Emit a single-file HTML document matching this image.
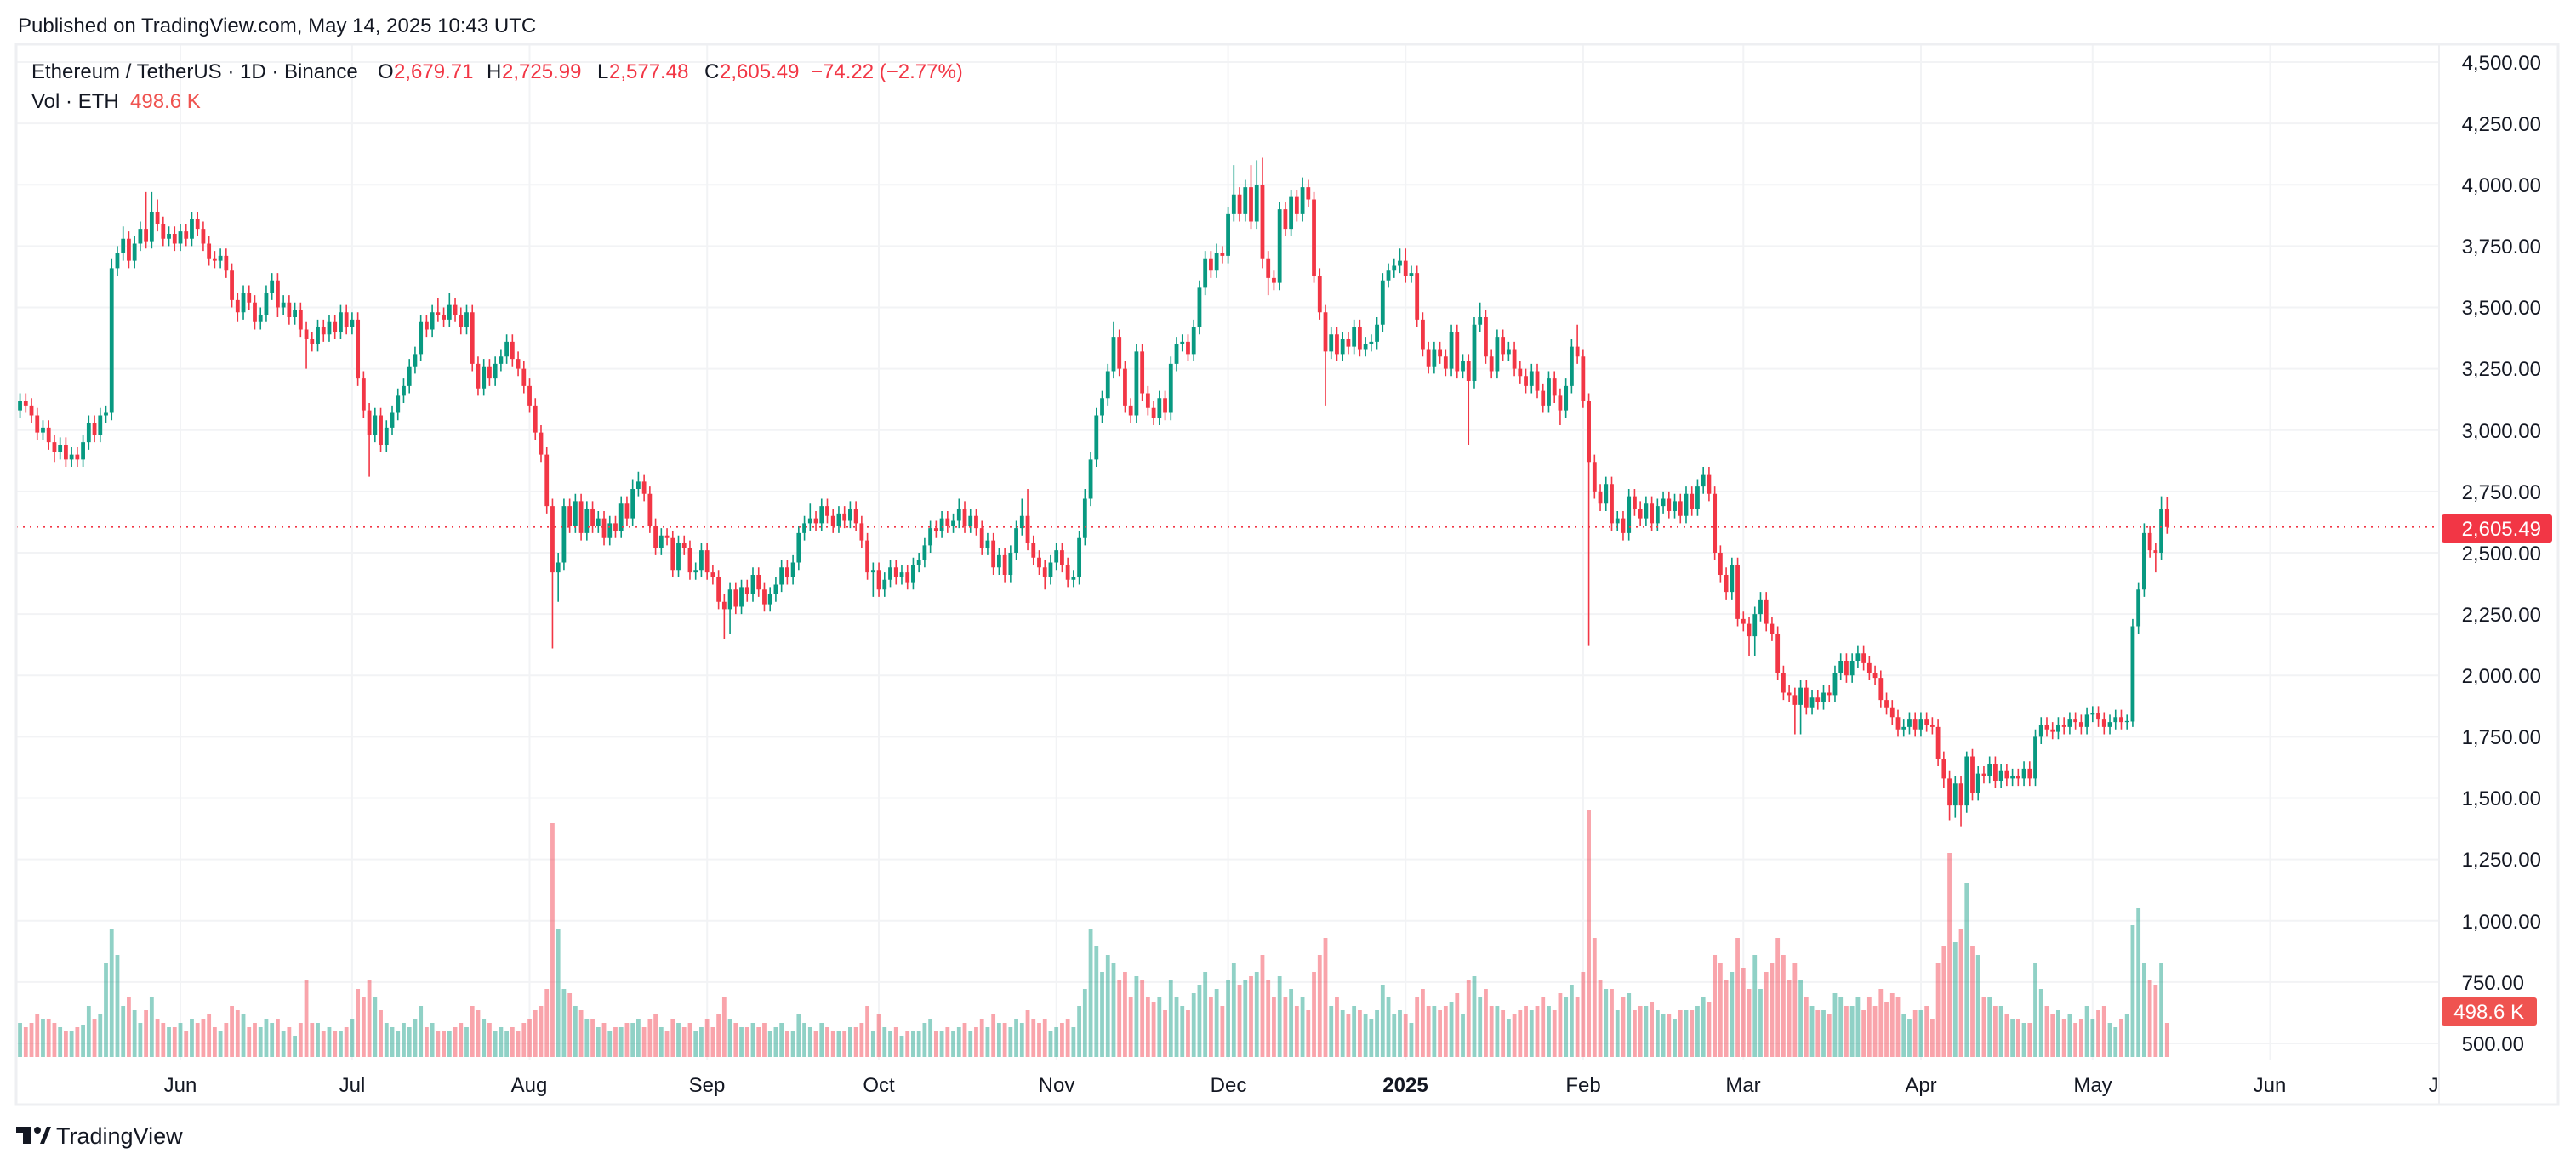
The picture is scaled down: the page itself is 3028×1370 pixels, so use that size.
<!DOCTYPE html>
<html><head><meta charset="utf-8">
<style>
html,body{margin:0;padding:0;background:#fff;}
svg{display:block;font-family:"Liberation Sans",sans-serif;}
</style></head>
<body>
<svg width="3028" height="1370" viewBox="0 0 3028 1370" xmlns="http://www.w3.org/2000/svg">
<defs><clipPath id="pane"><rect x="19" y="52" width="2848" height="1247"/></clipPath></defs>
<rect width="3028" height="1370" fill="#fff"/>
<g stroke="#f2f3f5" stroke-width="2">
<line x1="19" x2="2867" y1="73" y2="73"/><line x1="19" x2="2867" y1="145.1" y2="145.1"/><line x1="19" x2="2867" y1="217.3" y2="217.3"/><line x1="19" x2="2867" y1="289.4" y2="289.4"/><line x1="19" x2="2867" y1="361.5" y2="361.5"/><line x1="19" x2="2867" y1="433.6" y2="433.6"/><line x1="19" x2="2867" y1="505.8" y2="505.8"/><line x1="19" x2="2867" y1="577.9" y2="577.9"/><line x1="19" x2="2867" y1="650" y2="650"/><line x1="19" x2="2867" y1="722.1" y2="722.1"/><line x1="19" x2="2867" y1="794.3" y2="794.3"/><line x1="19" x2="2867" y1="866.4" y2="866.4"/><line x1="19" x2="2867" y1="938.5" y2="938.5"/><line x1="19" x2="2867" y1="1010.6" y2="1010.6"/><line x1="19" x2="2867" y1="1082.8" y2="1082.8"/><line x1="19" x2="2867" y1="1154.9" y2="1154.9"/><line x1="19" x2="2867" y1="1227" y2="1227"/>
<line x1="212" x2="212" y1="52" y2="1246"/><line x1="413.9" x2="413.9" y1="52" y2="1246"/><line x1="622.5" x2="622.5" y1="52" y2="1246"/><line x1="831.2" x2="831.2" y1="52" y2="1246"/><line x1="1033" x2="1033" y1="52" y2="1246"/><line x1="1241.7" x2="1241.7" y1="52" y2="1246"/><line x1="1443.6" x2="1443.6" y1="52" y2="1246"/><line x1="1652.2" x2="1652.2" y1="52" y2="1246"/><line x1="1860.9" x2="1860.9" y1="52" y2="1246"/><line x1="2049.3" x2="2049.3" y1="52" y2="1246"/><line x1="2258" x2="2258" y1="52" y2="1246"/><line x1="2459.8" x2="2459.8" y1="52" y2="1246"/><line x1="2668.5" x2="2668.5" y1="52" y2="1246"/>
</g>
<g clip-path="url(#pane)">
<g transform="matrix(6.73 0 0 -1 212 1243)" fill="none" stroke-width="4.8">
<path vector-effect="non-scaling-stroke" stroke="rgba(8,153,129,0.45)" d="M-28 0v40M-24 0v45M-21 0v35M-19 0v30M-17 0v38M-16 0v60M-14 0v50M-13 0v110M-12 0v150M-11 0v120M-10 0v60M-8 0v55M-7 0v40M-5 0v70M-2 0v35M0 0v40M2 0v45M7 0v30M11 0v50M14 0v35M15 0v45M16 0v40M18 0v30M20 0v25M24 0v40M26 0v35M28 0v30M30 0v45M34 0v70M36 0v40M37 0v35M38 0v30M39 0v40M40 0v35M41 0v45M42 0v60M44 0v40M47 0v30M50 0v35M53 0v45M55 0v30M56 0v35M57 0v30M66 0v150M67 0v80M69 0v60M71 0v45M73 0v35M75 0v30M77 0v35M79 0v40M80 0v45M84 0v35M87 0v40M90 0v30M91 0v35M96 0v45M98 0v35M100 0v40M103 0v30M104 0v35M105 0v40M107 0v30M108 0v50M109 0v40M110 0v35M112 0v40M115 0v30M117 0v35M121 0v30M123 0v35M124 0v30M126 0v25M128 0v30M129 0v30M130 0v40M131 0v45M133 0v30M135 0v30M136 0v35M138 0v30M141 0v35M143 0v40M145 0v35M146 0v45M147 0v40M152 0v30M153 0v35M156 0v35M157 0v60M158 0v80M159 0v150M160 0v130M161 0v100M162 0v120M163 0v110M167 0v95M171 0v70M173 0v90M174 0v70M175 0v60M177 0v75M178 0v85M179 0v100M181 0v80M183 0v90M184 0v110M186 0v90M188 0v100M192 0v95M194 0v80M196 0v70M201 0v60M203 0v55M205 0v60M207 0v50M208 0v45M209 0v55M210 0v85M211 0v70M212 0v50M213 0v55M215 0v40M219 0v60M222 0v65M224 0v50M226 0v95M227 0v70M230 0v60M232 0v45M236 0v55M239 0v60M242 0v70M243 0v85M249 0v80M251 0v55M253 0v75M256 0v60M258 0v55M259 0v50M261 0v45M263 0v55M265 0v60M266 0v70M271 0v100M275 0v120M276 0v80M283 0v90M285 0v60M287 0v55M289 0v75M290 0v70M292 0v60M293 0v70M301 0v50M302 0v45M304 0v55M310 0v135M312 0v205M314 0v120M316 0v70M318 0v60M320 0v45M322 0v40M324 0v110M325 0v80M328 0v55M330 0v50M333 0v60M334 0v45M337 0v40M338 0v35M340 0v50M341 0v155M342 0v175M343 0v110M346 0v110"/>
<path vector-effect="non-scaling-stroke" stroke="rgba(242,54,69,0.45)" d="M-27 0v35M-26 0v40M-25 0v50M-23 0v45M-22 0v40M-20 0v30M-18 0v35M-15 0v45M-9 0v70M-6 0v55M-4 0v45M-3 0v40M-1 0v35M1 0v30M3 0v40M4 0v45M5 0v50M6 0v35M8 0v40M9 0v60M10 0v55M12 0v35M13 0v40M17 0v45M19 0v35M21 0v40M22 0v90M23 0v40M25 0v30M27 0v30M29 0v35M31 0v80M32 0v70M33 0v90M35 0v55M43 0v35M45 0v30M46 0v30M48 0v35M49 0v40M51 0v60M52 0v55M54 0v40M58 0v35M59 0v30M60 0v40M61 0v45M62 0v55M63 0v60M64 0v80M65 0v275M68 0v75M70 0v55M72 0v45M74 0v40M76 0v35M78 0v40M81 0v35M82 0v45M83 0v50M85 0v30M86 0v45M88 0v35M89 0v40M92 0v45M93 0v35M94 0v50M95 0v70M97 0v40M99 0v35M101 0v35M102 0v40M106 0v30M111 0v30M113 0v35M114 0v30M116 0v30M118 0v35M119 0v40M120 0v60M122 0v50M125 0v35M127 0v30M132 0v30M134 0v35M137 0v40M139 0v35M140 0v45M142 0v50M144 0v40M148 0v55M149 0v45M150 0v40M151 0v45M154 0v40M155 0v45M164 0v90M165 0v100M166 0v70M168 0v90M169 0v70M170 0v65M172 0v55M176 0v55M180 0v70M182 0v60M185 0v85M187 0v95M189 0v120M190 0v90M191 0v70M193 0v70M195 0v60M197 0v55M198 0v100M199 0v120M200 0v140M202 0v70M204 0v50M206 0v55M214 0v50M216 0v70M217 0v80M218 0v60M220 0v55M221 0v60M223 0v75M225 0v90M228 0v80M229 0v60M231 0v55M233 0v50M234 0v55M235 0v60M237 0v60M238 0v70M240 0v55M241 0v75M244 0v70M245 0v100M246 0v290M247 0v140M248 0v90M250 0v80M252 0v70M254 0v55M255 0v60M257 0v65M260 0v50M262 0v55M264 0v55M267 0v65M268 0v120M269 0v110M270 0v90M272 0v140M273 0v105M274 0v80M277 0v100M278 0v110M279 0v140M280 0v120M281 0v90M282 0v110M284 0v70M286 0v55M288 0v50M291 0v60M294 0v55M295 0v70M296 0v60M297 0v80M298 0v65M299 0v75M300 0v70M303 0v55M305 0v60M306 0v45M307 0v110M308 0v130M309 0v240M311 0v150M313 0v130M315 0v70M317 0v60M319 0v50M321 0v45M323 0v40M326 0v60M327 0v50M329 0v45M331 0v40M332 0v45M335 0v55M336 0v60M339 0v45M344 0v90M345 0v85M347 0v40"/>
</g>
<g transform="matrix(6.73 0 0 -0.2885 212 1371.25)" fill="none">
<path vector-effect="non-scaling-stroke" stroke="#089981" stroke-width="1.6" d="M-28 3050V3150M-24 2960V3040M-21 2880V2970M-19 2850V2930M-17 2850V2980M-16 2920V3060M-14 2950V3090M-13 3030V3100M-12 3040V3700M-11 3630V3750M-10 3690V3830M-8 3660V3790M-7 3730V3850M-5 3740V3970M-2 3750V3830M0 3730V3840M2 3750V3890M7 3660V3740M11 3450V3590M14 3410V3500M15 3440V3590M16 3530V3640M18 3470V3550M20 3430V3520M24 3320V3450M26 3360V3470M28 3370V3510M30 3390V3480M34 2950V3090M36 2910V3040M37 2980V3100M38 3040V3170M39 3110V3210M40 3150V3290M41 3230V3340M42 3280V3470M44 3380V3510M47 3420V3560M50 3390V3510M53 3140V3290M55 3180V3300M56 3240V3330M57 3270V3390M66 2300V2500M67 2430V2720M69 2580V2740M71 2550V2710M73 2580V2670M75 2530V2650M77 2560V2730M79 2610V2800M80 2730V2830M84 2490V2600M87 2400V2570M90 2390V2460M91 2400V2540M96 2170V2380M98 2250V2390M100 2300V2440M103 2260V2360M104 2300V2400M105 2340V2470M107 2370V2490M108 2430V2610M109 2550V2650M110 2590V2700M112 2590V2720M115 2580V2690M117 2600V2710M121 2320V2460M123 2320V2420M124 2360V2470M126 2370V2450M128 2350V2480M129 2420V2500M130 2440V2560M131 2500V2630M133 2560V2670M135 2580V2660M136 2600V2720M138 2580V2680M141 2490V2580M143 2410V2520M145 2380V2530M146 2470V2630M147 2570V2720M152 2370V2490M153 2430V2540M156 2360V2430M157 2370V2590M158 2530V2760M159 2690V2910M160 2850V3090M161 3030V3160M162 3100V3270M163 3210V3440M167 3030V3350M171 3020V3160M173 3040V3300M174 3240V3380M175 3320V3390M177 3280V3450M178 3390V3610M179 3550V3730M181 3620V3760M183 3680V3910M184 3850V4080M186 3850V4020M188 3820V4100M192 3570V3930M194 3790V3980M196 3850V4030M201 3290V3420M203 3280V3400M205 3310V3450M207 3300V3380M208 3320V3390M209 3330V3460M210 3400V3640M211 3580V3680M212 3620V3700M213 3640V3740M215 3600V3670M219 3230V3360M222 3220V3430M224 3210V3310M226 3170V3460M227 3400V3520M230 3210V3410M232 3280V3360M236 3150V3270M239 3070V3240M242 3050V3210M243 3150V3370M249 2670V2810M251 2590V2670M253 2550V2760M256 2610V2730M258 2590V2720M259 2660V2750M261 2640V2740M263 2620V2770M265 2650V2800M266 2740V2850M271 2310V2480M275 2080V2280M276 2220V2340M283 1760V1980M285 1840V1940M287 1860V1960M289 1890V2040M290 1980V2090M292 1970V2090M293 2030V2120M301 1750V1820M302 1760V1850M304 1750V1850M310 1420V1590M312 1440V1690M314 1490V1630M316 1560V1670M318 1540V1640M320 1550V1620M322 1550V1650M324 1550V1780M325 1720V1830M328 1740V1830M330 1760V1850M333 1760V1870M334 1810V1875M337 1760V1840M338 1780V1860M340 1780V1840M341 1790V2230M342 2170V2380M343 2320V2620M346 2470V2730"/>
<path vector-effect="non-scaling-stroke" stroke="#089981" stroke-width="4.8" d="M-28 3080V3120M-24 2990V3010M-21 2910V2940M-19 2880V2900M-17 2880V2950M-16 2950V3030M-14 2980V3060M-13 3060V3070M-12 3070V3660M-11 3660V3720M-10 3720V3780M-8 3690V3760M-7 3760V3820M-5 3770V3890M-2 3780V3800M0 3760V3810M2 3780V3860M7 3690V3710M11 3480V3560M14 3440V3470M15 3470V3560M16 3560V3610M18 3500V3520M20 3460V3490M24 3350V3420M26 3390V3440M28 3400V3480M30 3420V3450M34 2980V3060M36 2940V3010M37 3010V3070M38 3070V3140M39 3140V3180M40 3180V3260M41 3260V3310M42 3310V3440M44 3410V3480M47 3450V3510M50 3420V3480M53 3170V3260M55 3210V3270M56 3270V3300M57 3300V3360M66 2420V2460M67 2460V2690M69 2610V2710M71 2580V2680M73 2610V2640M75 2560V2620M77 2590V2700M79 2640V2760M80 2760V2790M84 2520V2570M87 2430V2540M90 2420V2430M91 2430V2510M96 2270V2350M98 2280V2360M100 2330V2410M103 2290V2330M104 2330V2370M105 2370V2440M107 2400V2460M108 2460V2580M109 2580V2620M110 2620V2640M112 2620V2690M115 2610V2660M117 2630V2680M121 2420V2430M123 2350V2390M124 2390V2440M126 2400V2420M128 2380V2450M129 2450V2470M130 2470V2530M131 2530V2600M133 2590V2640M135 2610V2630M136 2630V2680M138 2610V2650M141 2520V2550M143 2440V2490M145 2410V2500M146 2500V2600M147 2600V2650M152 2400V2460M153 2460V2510M156 2390V2400M157 2400V2560M158 2560V2720M159 2720V2880M160 2880V3060M161 3060V3130M162 3130V3240M163 3240V3380M167 3060V3320M171 3050V3130M173 3070V3270M174 3270V3350M175 3350V3360M177 3310V3420M178 3420V3580M179 3580V3700M181 3650V3720M183 3710V3880M184 3880V3960M186 3880V3990M188 3850V4000M192 3600V3900M194 3820V3950M196 3880V3990M201 3320V3390M203 3310V3370M205 3340V3420M207 3330V3350M208 3350V3360M209 3360V3430M210 3430V3610M211 3610V3650M212 3650V3670M213 3670V3690M215 3630V3640M219 3260V3330M222 3250V3400M224 3240V3280M226 3200V3430M227 3430V3460M230 3240V3380M232 3310V3330M236 3180V3240M239 3100V3210M242 3080V3180M243 3180V3340M249 2700V2780M251 2620V2640M253 2580V2730M256 2640V2700M258 2620V2690M259 2690V2720M261 2670V2710M263 2650V2740M265 2680V2770M266 2770V2820M271 2340V2450M275 2160V2250M276 2250V2310M283 1880V1950M285 1870V1910M287 1890V1930M289 1920V2010M290 2010V2060M292 2000V2060M293 2060V2090M301 1780V1790M302 1790V1820M304 1780V1820M310 1470V1560M312 1470V1670M314 1520V1600M316 1590V1640M318 1570V1610M320 1580V1590M322 1580V1620M324 1580V1750M325 1750V1800M328 1770V1800M330 1790V1820M333 1790V1840M334 1840V1845M337 1790V1810M338 1810V1830M340 1810V1814M341 1812V2200M342 2200V2350M343 2350V2580M346 2500V2680"/>
<path vector-effect="non-scaling-stroke" stroke="#f23645" stroke-width="1.6" d="M-27 3150V3070M-26 3130V3030M-25 3090V2960M-23 3040V2920M-22 2980V2870M-20 2970V2850M-18 2930V2850M-15 3060V2950M-9 3810V3660M-6 3970V3740M-4 3940V3810M-3 3870V3750M-1 3830V3730M1 3840V3750M3 3890V3790M4 3850V3730M5 3790V3670M6 3730V3660M8 3740V3620M9 3680V3500M10 3560V3440M12 3590V3490M13 3550V3410M17 3640V3460M19 3550V3430M21 3520V3380M22 3440V3250M23 3400V3320M25 3450V3360M27 3470V3370M29 3510V3390M31 3480V3180M32 3240V3050M33 3110V2810M35 3090V2910M43 3470V3380M45 3540V3440M46 3500V3420M48 3540V3440M49 3500V3390M51 3510V3240M52 3300V3140M54 3290V3180M58 3390V3260M59 3320V3220M60 3280V3150M61 3210V3070M62 3130V2960M63 3020V2870M64 2930V2660M65 2720V2110M68 2720V2580M70 2740V2550M72 2710V2580M74 2670V2530M76 2650V2560M78 2730V2610M81 2820V2710M82 2770V2580M83 2640V2490M85 2600V2530M86 2590V2400M88 2570V2490M89 2550V2390M92 2540V2390M93 2450V2370M94 2430V2270M95 2330V2150M97 2380V2250M99 2390V2300M101 2440V2320M102 2380V2260M106 2470V2370M111 2670V2590M113 2720V2620M114 2680V2580M116 2690V2600M118 2710V2590M119 2650V2520M120 2580V2390M122 2460V2320M125 2470V2370M127 2450V2350M132 2630V2560M134 2670V2580M137 2710V2580M139 2680V2570M140 2630V2490M142 2580V2410M144 2520V2380M148 2760V2510M149 2570V2450M150 2510V2410M151 2470V2350M154 2540V2420M155 2480V2360M164 3410V3220M165 3280V3070M166 3130V3030M168 3350V3120M169 3180V3060M170 3120V3020M172 3160V3040M176 3390V3280M180 3730V3620M182 3750V3680M185 3990V3850M187 4080V3820M189 4110V3660M190 3730V3550M191 3650V3570M193 3930V3790M195 3980V3850M197 4020V3910M198 3970V3600M199 3660V3450M200 3510V3100M202 3420V3280M204 3400V3310M206 3450V3300M214 3740V3600M216 3670V3420M217 3480V3300M218 3360V3230M220 3360V3270M221 3330V3220M223 3430V3210M225 3310V2940M228 3490V3270M229 3330V3210M231 3410V3280M233 3360V3220M234 3280V3190M235 3250V3150M237 3270V3130M238 3190V3070M240 3240V3110M241 3170V3020M244 3430V3270M245 3330V3090M246 3150V2120M247 2900V2720M248 2780V2670M250 2810V2590M252 2670V2550M254 2760V2650M255 2710V2610M257 2730V2590M260 2750V2640M262 2740V2620M264 2770V2650M267 2850V2710M268 2770V2470M269 2530V2380M270 2440V2310M272 2480V2200M273 2260V2180M274 2240V2080M277 2340V2180M278 2240V2140M279 2200V1980M280 2040V1900M281 1960V1890M282 1950V1760M284 1980V1840M286 1940V1860M288 1960V1890M291 2090V1970M294 2120V2020M295 2080V1980M296 2040V1960M297 2020V1870M298 1930V1840M299 1900V1800M300 1860V1750M303 1850V1750M305 1850V1770M306 1830V1760M307 1820V1630M308 1690V1540M309 1610V1410M311 1590V1385M313 1700V1490M315 1630V1560M317 1670V1540M319 1640V1550M321 1620V1550M323 1650V1550M326 1830V1750M327 1810V1740M329 1830V1760M331 1850V1780M332 1840V1760M335 1875V1790M336 1850V1760M339 1860V1780M344 2610V2480M345 2540V2420M347 2726V2577"/>
<path vector-effect="non-scaling-stroke" stroke="#f23645" stroke-width="4.8" d="M-27 3120V3100M-26 3100V3060M-25 3060V2990M-23 3010V2950M-22 2950V2910M-20 2940V2880M-18 2900V2880M-15 3030V2980M-9 3780V3690M-6 3820V3770M-4 3890V3840M-3 3840V3780M-1 3800V3760M1 3810V3780M3 3860V3820M4 3820V3760M5 3760V3700M6 3700V3690M8 3710V3650M9 3650V3530M10 3530V3480M12 3560V3520M13 3520V3440M17 3610V3500M19 3520V3460M21 3490V3410M22 3410V3370M23 3370V3350M25 3420V3390M27 3440V3400M29 3480V3420M31 3450V3210M32 3210V3080M33 3080V2980M35 3060V2940M43 3440V3410M45 3480V3470M46 3470V3450M48 3510V3470M49 3470V3420M51 3480V3270M52 3270V3170M54 3260V3210M58 3360V3290M59 3290V3250M60 3250V3180M61 3180V3100M62 3100V2990M63 2990V2900M64 2900V2690M65 2690V2420M68 2690V2610M70 2710V2580M72 2680V2610M74 2640V2560M76 2620V2590M78 2700V2640M81 2790V2740M82 2740V2610M83 2610V2520M85 2570V2560M86 2560V2430M88 2540V2520M89 2520V2420M92 2510V2420M93 2420V2400M94 2400V2300M95 2300V2270M97 2350V2280M99 2360V2330M101 2410V2350M102 2350V2290M106 2440V2400M111 2640V2620M113 2690V2650M114 2650V2610M116 2660V2630M118 2680V2620M119 2620V2550M120 2550V2420M122 2430V2350M125 2440V2400M127 2420V2380M132 2600V2590M134 2640V2610M137 2680V2610M139 2650V2600M140 2600V2520M142 2550V2440M144 2490V2410M148 2650V2540M149 2540V2480M150 2480V2440M151 2440V2400M154 2510V2450M155 2450V2390M164 3380V3250M165 3250V3100M166 3100V3060M168 3320V3150M169 3150V3090M170 3090V3050M172 3130V3070M176 3360V3310M180 3700V3650M182 3720V3710M185 3960V3880M187 3990V3850M189 4000V3700M190 3700V3620M191 3620V3600M193 3900V3820M195 3950V3880M197 3990V3940M198 3940V3630M199 3630V3480M200 3480V3320M202 3390V3310M204 3370V3340M206 3420V3330M214 3690V3630M216 3640V3450M217 3450V3330M218 3330V3260M220 3330V3300M221 3300V3250M223 3400V3240M225 3280V3200M228 3460V3300M229 3300V3240M231 3380V3310M233 3330V3250M234 3250V3220M235 3220V3180M237 3240V3160M238 3160V3100M240 3210V3140M241 3140V3080M244 3340V3300M245 3300V3120M246 3120V2870M247 2870V2750M248 2750V2700M250 2780V2620M252 2640V2580M254 2730V2680M255 2680V2640M257 2700V2620M260 2720V2670M262 2710V2650M264 2740V2680M267 2820V2740M268 2740V2500M269 2500V2410M270 2410V2340M272 2450V2230M273 2230V2210M274 2210V2160M277 2310V2210M278 2210V2170M279 2170V2010M280 2010V1930M281 1930V1920M282 1920V1880M284 1950V1870M286 1910V1890M288 1930V1920M291 2060V2000M294 2090V2050M295 2050V2010M296 2010V1990M297 1990V1900M298 1900V1870M299 1870V1830M300 1830V1780M303 1820V1780M305 1820V1800M306 1800V1790M307 1790V1660M308 1660V1580M309 1580V1470M311 1560V1470M313 1670V1520M315 1600V1590M317 1640V1570M319 1610V1580M321 1590V1580M323 1620V1580M326 1800V1780M327 1780V1770M329 1800V1790M331 1820V1810M332 1810V1790M335 1845V1820M336 1820V1790M339 1830V1810M344 2580V2510M345 2510V2500M347 2680V2605"/>
</g>
</g>
<line x1="19" x2="2867" y1="619.6" y2="619.6" stroke="#f23645" stroke-width="2" stroke-dasharray="2,6"/>
<rect x="19" y="52" width="2988" height="1247" fill="none" stroke="#eeeff2" stroke-width="3"/>
<line x1="2867" x2="2867" y1="52" y2="1299" stroke="#eeeff2" stroke-width="2"/>
<g font-size="24" fill="#131722" text-anchor="end">
<text x="2987" y="82">4,500.00</text><text x="2987" y="154">4,250.00</text><text x="2987" y="226">4,000.00</text><text x="2987" y="298">3,750.00</text><text x="2987" y="370">3,500.00</text><text x="2987" y="442">3,250.00</text><text x="2987" y="515">3,000.00</text><text x="2987" y="587">2,750.00</text><text x="2987" y="659">2,500.00</text><text x="2987" y="731">2,250.00</text><text x="2987" y="803">2,000.00</text><text x="2987" y="875">1,750.00</text><text x="2987" y="947">1,500.00</text><text x="2987" y="1019">1,250.00</text><text x="2987" y="1092">1,000.00</text><text x="2967" y="1164">750.00</text><text x="2967" y="1236">500.00</text>
</g>
<g font-size="24" fill="#131722" text-anchor="middle" clip-path="url(#pane)">
<text x="212" y="1284">Jun</text><text x="414" y="1284">Jul</text><text x="622" y="1284">Aug</text><text x="831" y="1284">Sep</text><text x="1033" y="1284">Oct</text><text x="1242" y="1284">Nov</text><text x="1444" y="1284">Dec</text><text x="1652" y="1284" font-weight="bold">2025</text><text x="1861" y="1284">Feb</text><text x="2049" y="1284">Mar</text><text x="2258" y="1284">Apr</text><text x="2460" y="1284">May</text><text x="2668" y="1284">Jun</text><text x="2870" y="1284">Jul</text>
</g>
<rect x="2870" y="605" width="130" height="33" rx="3" fill="#f23645"/>
<text x="2987" y="630" font-size="24" fill="#fff" text-anchor="end">2,605.49</text>
<rect x="2870" y="1173" width="112" height="33" rx="3" fill="#ef5350"/>
<text x="2967" y="1198" font-size="24" fill="#fff" text-anchor="end">498.6 K</text>
<text x="21" y="38" font-size="24" fill="#131722">Published on TradingView.com, May 14, 2025 10:43 UTC</text>
<g font-size="24">
<text x="37" y="92" fill="#131722">Ethereum / TetherUS · 1D · Binance</text>
<text x="444" y="92" fill="#131722">O</text><text x="463" y="92" fill="#f23645">2,679.71</text>
<text x="572" y="92" fill="#131722">H</text><text x="590" y="92" fill="#f23645">2,725.99</text>
<text x="702" y="92" fill="#131722">L</text><text x="716" y="92" fill="#f23645">2,577.48</text>
<text x="828" y="92" fill="#131722">C</text><text x="846" y="92" fill="#f23645">2,605.49</text>
<text x="953" y="92" fill="#f23645">−74.22 (−2.77%)</text>
<text x="37" y="127" fill="#131722">Vol · ETH</text><text x="153" y="127" fill="#ef5350">498.6 K</text>
</g>
<g fill="#131722">
<rect x="19" y="1325" width="18" height="7"/><rect x="27" y="1325" width="9" height="20"/>
<circle cx="44" cy="1329" r="4"/><polygon points="47,1345 55,1325 60,1325 52,1345"/>
<text x="66" y="1345" font-size="27">TradingView</text>
</g>
</svg>
</body></html>
